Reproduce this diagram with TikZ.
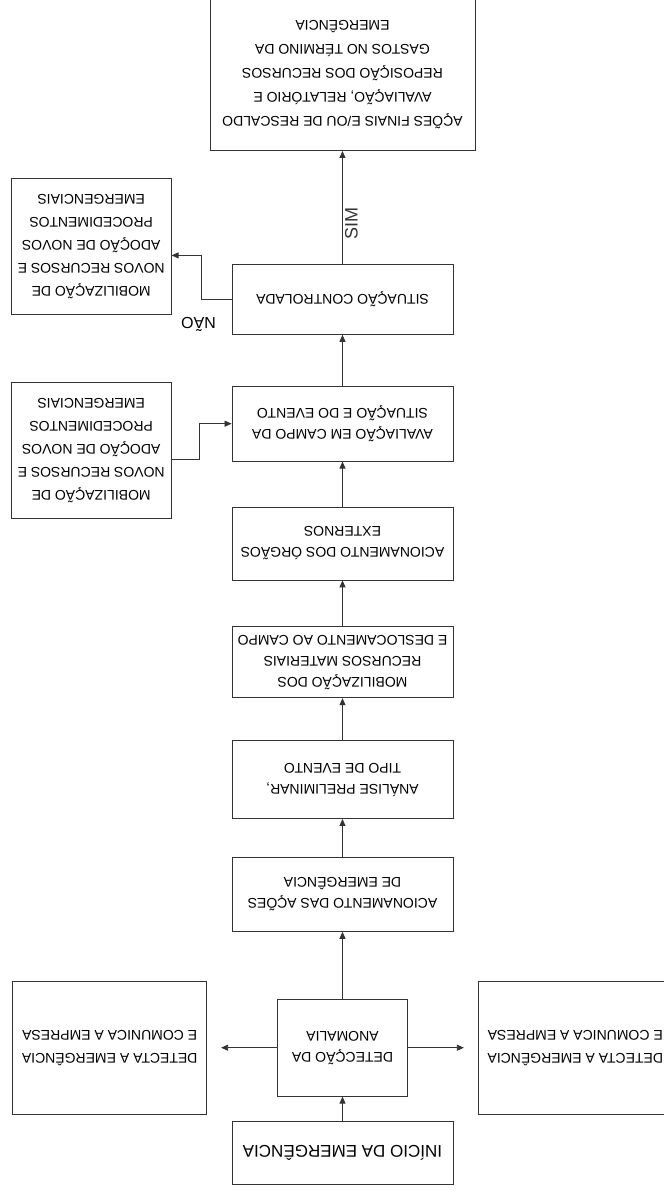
\documentclass[tikz,border=0pt]{standalone}
\usepackage{fontspec}
\setmainfont{Liberation Sans}
\usetikzlibrary{arrows.meta, positioning}

\begin{document}
\begin{tikzpicture}[
    x=1pt, y=1pt, rotate=180, transform shape,
    every node/.style={font=\fontsize{14}{21}\selectfont},
    etapa/.style={rectangle, draw=black!80, line width=0.8pt, fill=white, minimum width=221pt, minimum height=74pt, align=center, inner sep=2pt},
    lateral/.style={rectangle, draw=black!80, line width=0.8pt, fill=white, minimum width=160pt, minimum height=136pt, align=center, font=\fontsize{14}{23}\selectfont},
    seta/.style={-{Triangle[length=7pt, width=6pt]}, line width=0.8pt, black!80}
]
\fill[white] (0,0) rectangle (664,-1197);
\useasboundingbox (0,0) rectangle (664,-1197);
\clip (0,0) rectangle (664,-1197);

% coluna principal
\node[etapa, minimum height=63pt, font=\fontsize{17}{20}\selectfont] (inicio) at (321.5,-44.5) {INÍCIO DA EMERGÊNCIA};
\node[etapa, minimum width=130pt, minimum height=97pt, below=24pt of inicio] (deteccao) {DETECÇÃO DA\\ANOMALIA};
\node[etapa, below=67pt of deteccao] (acoes) {ACIONAMENTO DAS AÇÕES\\DE EMERGÊNCIA};
\node[etapa, minimum height=78pt, below=38pt of acoes] (analise) {ANÁLISE PRELIMINAR,\\TIPO DE EVENTO};
\node[etapa, minimum height=71pt, below=42pt of analise] (recursos) {MOBILIZAÇÃO DOS\\RECURSOS MATERIAIS\\E DESLOCAMENTO AO CAMPO};
\node[etapa, minimum height=73pt, below=46pt of recursos] (orgaos) {ACIONAMENTO DOS ÓRGÃOS\\EXTERNOS};
\node[etapa, minimum height=75pt, below=45pt of orgaos] (avaliacao) {AVALIAÇÃO EM CAMPO DA\\SITUAÇÃO E DO EVENTO};
\node[etapa, minimum height=70pt, below=51pt of avaliacao] (situacao) {SITUAÇÃO CONTROLADA};
\node[etapa, minimum width=265pt, minimum height=152pt, below=113pt of situacao, font=\fontsize{14}{24}\selectfont] (fim) {AÇÕES FINAIS E/OU DE RESCALDO\\AVALIAÇÃO, RELATÓRIO E\\REPOSIÇÃO DOS RECURSOS\\GASTOS NO TÉRMINO DA\\EMERGÊNCIA};

% caixas laterais
\node[lateral, minimum width=194pt, minimum height=133pt, right=70pt of deteccao] (ladoA) {DETECTA A EMERGÊNCIA\\E COMUNICA A EMPRESA};
\node[lateral, minimum width=194pt, minimum height=133pt, left=70pt of deteccao] (ladoB) {DETECTA A EMERGÊNCIA\\E COMUNICA A EMPRESA};
\node[lateral, right=60pt of avaliacao, yshift=27pt] (novosA) {MOBILIZAÇÃO DE\\NOVOS RECURSOS E\\ADOÇÃO DE NOVOS\\PROCEDIMENTOS\\EMERGENCIAIS};
\node[lateral, right=60pt of situacao, yshift=-53pt] (novosB) {MOBILIZAÇÃO DE\\NOVOS RECURSOS E\\ADOÇÃO DE NOVOS\\PROCEDIMENTOS\\EMERGENCIAIS};

\draw[seta] (inicio) -- (deteccao);
\draw[seta, shorten >=14pt] (deteccao) -- (ladoA);
\draw[seta, shorten >=14pt] (deteccao) -- (ladoB);
\draw[seta] (deteccao) -- (acoes);
\draw[seta] (acoes) -- (analise);
\draw[seta] (analise) -- (recursos);
\draw[seta] (recursos) -- (orgaos);
\draw[seta] (orgaos) -- (avaliacao);
\draw[seta] (avaliacao) -- (situacao);
\draw[seta] ([yshift=9pt]novosA.west) -- ++(-28,0) |- (avaliacao.east);
\draw[seta] (situacao.east) -- ++(30,0) coordinate (canto) |- ([yshift=9pt]novosB.west);
\node[font=\fontsize{16}{18}\selectfont, above=14pt of canto, xshift=3pt] (nao) {NÃO};
\draw[seta] (situacao) -- (fim) node[pos=0.36, xshift=-9pt, rotate=-90, inner sep=0pt, font=\fontsize{18}{18}\selectfont] (sim) {SIM};

\end{tikzpicture}
\end{document}
